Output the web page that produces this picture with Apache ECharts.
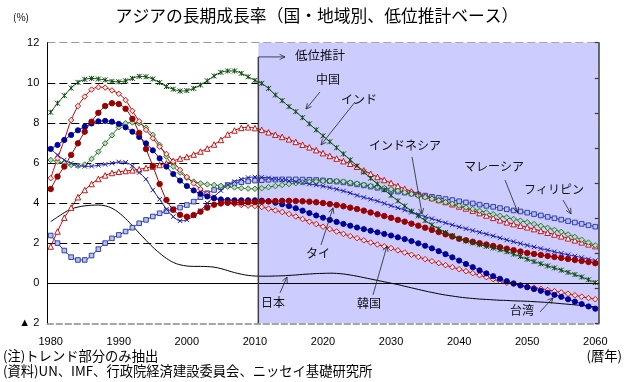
<!DOCTYPE html>
<html>
<head>
<meta charset="utf-8">
<script src="https://cdn.jsdelivr.net/npm/echarts@6/dist/echarts.min.js"></script>
<style>
html,body{margin:0;padding:0;background:#fff}
#chart{width:627px;height:382px}
</style>
</head>
<body>
<div id="chart"></div>
<script>
(function () {
// Calendar years 1980-2060 (category axis)
const years = [];
for (let y = 1980; y <= 2060; y++) years.push(String(y));

// Value-axis tick labels (negative values are written with ▲)
const yTicks = [-2, 0, 2, 4, 6, 8, 10, 12];

// Trend growth rates (%), 1980-2060, low-variant projection from 2011
const china = [8.53,8.98,9.36,9.74,10.02,10.17,10.22,10.19,10.14,10.07,10.05,10.10,10.22,10.32,10.30,10.19,10.01,9.81,9.68,9.59,9.61,9.72,9.89,10.10,10.34,10.52,10.59,10.59,10.47,10.30,10.12,9.97,9.72,9.39,9.11,8.81,8.56,8.26,7.95,7.65,7.35,7.06,6.76,6.45,6.15,5.85,5.54,5.24,4.95,4.66,4.38,4.11,3.85,3.60,3.36,3.13,2.91,2.71,2.53,2.37,2.23,2.11,2.01,1.92,1.84,1.76,1.67,1.57,1.45,1.33,1.20,1.08,0.97,0.86,0.76,0.65,0.54,0.43,0.31,0.17,0.03];
const india = [1.83,2.58,3.27,3.77,4.29,4.65,4.95,5.20,5.38,5.50,5.56,5.60,5.63,5.68,5.75,5.82,5.90,5.98,6.10,6.22,6.30,6.42,6.57,6.72,6.92,7.15,7.42,7.62,7.75,7.78,7.74,7.65,7.53,7.41,7.30,7.18,7.05,6.91,6.78,6.64,6.49,6.35,6.22,6.09,5.96,5.81,5.63,5.46,5.30,5.15,5.00,4.85,4.71,4.58,4.46,4.35,4.25,4.15,4.05,3.94,3.83,3.73,3.62,3.50,3.38,3.26,3.14,3.04,2.95,2.87,2.79,2.70,2.61,2.52,2.43,2.34,2.24,2.14,2.04,1.94,1.85];
const indonesia = [6.70,6.40,6.15,5.98,5.87,5.83,5.84,5.88,5.93,5.99,6.05,6.03,5.85,5.52,5.19,4.65,4.19,3.69,3.32,3.11,3.16,3.36,3.62,3.99,4.32,4.62,4.90,5.07,5.19,5.27,5.30,5.28,5.25,5.20,5.15,5.10,5.05,5.00,4.95,4.90,4.84,4.77,4.69,4.60,4.50,4.38,4.28,4.19,4.10,3.98,3.87,3.76,3.65,3.54,3.43,3.32,3.22,3.11,3.01,2.91,2.81,2.72,2.63,2.54,2.45,2.36,2.26,2.16,2.07,1.98,1.89,1.81,1.73,1.65,1.57,1.49,1.42,1.35,1.28,1.20,1.13];
const malaysia = [6.15,6.07,5.99,5.90,5.86,5.92,6.20,6.56,6.98,7.38,7.78,7.98,8.02,7.98,7.76,7.40,6.90,6.32,5.82,5.52,5.26,5.07,4.98,4.93,4.90,4.86,4.82,4.78,4.74,4.72,4.71,4.74,4.79,4.85,4.90,4.95,4.99,5.03,5.06,5.08,5.10,5.10,5.10,5.07,5.02,4.97,4.91,4.85,4.80,4.75,4.69,4.61,4.53,4.45,4.37,4.29,4.21,4.13,4.04,3.96,3.87,3.78,3.70,3.61,3.53,3.44,3.36,3.28,3.20,3.12,3.04,2.95,2.86,2.76,2.66,2.56,2.43,2.31,2.17,2.03,1.89];
const philippines = [2.38,2.00,1.63,1.30,1.16,1.16,1.38,1.70,2.00,2.24,2.41,2.58,2.77,2.99,3.16,3.33,3.49,3.59,3.69,3.77,3.90,4.07,4.29,4.49,4.65,4.79,4.90,4.99,5.04,5.08,5.12,5.14,5.16,5.17,5.18,5.18,5.18,5.17,5.16,5.15,5.13,5.10,5.07,5.03,4.98,4.93,4.88,4.82,4.76,4.69,4.62,4.57,4.52,4.47,4.42,4.37,4.31,4.26,4.20,4.15,4.09,4.03,3.98,3.92,3.86,3.81,3.75,3.69,3.63,3.58,3.52,3.45,3.38,3.31,3.24,3.17,3.10,3.03,2.96,2.89,2.82];
const thailand = [4.70,5.32,5.82,6.40,6.98,7.56,8.06,8.50,8.84,8.98,8.94,8.70,8.20,7.50,6.70,5.85,4.95,4.15,3.66,3.41,3.32,3.40,3.57,3.77,3.92,3.98,4.01,4.02,4.03,4.04,4.05,4.07,4.09,4.10,4.11,4.11,4.10,4.09,4.07,4.04,4.00,3.95,3.90,3.84,3.77,3.70,3.62,3.53,3.44,3.35,3.26,3.16,3.07,2.97,2.87,2.77,2.66,2.55,2.44,2.33,2.22,2.14,2.07,2.00,1.93,1.86,1.79,1.72,1.65,1.58,1.51,1.46,1.41,1.36,1.31,1.26,1.21,1.16,1.11,1.06,1.00];
const korea = [5.24,6.23,7.15,8.14,8.84,9.31,9.66,9.78,9.76,9.62,9.45,9.14,8.60,8.08,7.65,7.23,6.81,6.45,6.07,5.65,5.30,4.98,4.70,4.46,4.26,4.11,4.01,3.95,3.90,3.87,3.85,3.80,3.72,3.63,3.55,3.45,3.33,3.20,3.07,2.95,2.82,2.70,2.58,2.46,2.35,2.25,2.14,2.03,1.93,1.84,1.75,1.64,1.53,1.42,1.31,1.20,1.10,1.00,0.90,0.80,0.70,0.60,0.50,0.40,0.30,0.20,0.10,0.02,-0.05,-0.11,-0.16,-0.22,-0.28,-0.34,-0.40,-0.46,-0.53,-0.60,-0.67,-0.74,-0.80];
const taiwan = [6.70,6.90,7.15,7.40,7.63,7.81,7.97,8.08,8.10,8.06,7.95,7.78,7.56,7.30,6.98,6.63,6.23,5.82,5.45,5.12,4.85,4.63,4.46,4.33,4.24,4.18,4.15,4.14,4.14,4.14,4.14,4.12,4.08,4.02,3.94,3.85,3.74,3.62,3.50,3.38,3.27,3.16,3.06,2.96,2.87,2.78,2.70,2.62,2.54,2.46,2.38,2.29,2.20,2.10,1.99,1.87,1.74,1.60,1.45,1.29,1.13,0.96,0.80,0.64,0.49,0.35,0.22,0.10,-0.01,-0.11,-0.20,-0.29,-0.38,-0.48,-0.58,-0.68,-0.80,-0.92,-1.04,-1.16,-1.27];
const japan = [3.07,3.30,3.52,3.70,3.80,3.86,3.89,3.90,3.86,3.74,3.52,3.22,2.87,2.50,2.14,1.80,1.50,1.24,1.04,0.92,0.86,0.84,0.84,0.83,0.80,0.73,0.63,0.53,0.45,0.39,0.36,0.35,0.35,0.36,0.37,0.39,0.41,0.44,0.46,0.48,0.49,0.50,0.49,0.46,0.41,0.35,0.28,0.21,0.14,0.07,0.00,-0.07,-0.15,-0.23,-0.31,-0.39,-0.46,-0.53,-0.59,-0.64,-0.69,-0.73,-0.76,-0.79,-0.81,-0.83,-0.85,-0.86,-0.88,-0.89,-0.90,-0.92,-0.94,-0.96,-0.99,-1.02,-1.05,-1.08,-1.11,-1.14,-1.18];

// Projection period (low variant) shaded from the 2010/2011 boundary to the end
const projectionFrom = 2010.5;
const projectionTo = 2060.5;

// Country captions and their leader arrows, in (year, %) coordinates
const captions = [
  { text: '低位推計', at: [2019.56, 11.39], size: 12.5 },
  { text: '中国', at: [2020.74, 10.19], size: 12 },
  { text: 'インド', at: [2025.29, 9.19], size: 12 },
  { text: 'インドネシア', at: [2032.05, 6.85], size: 12 },
  { text: 'マレーシア', at: [2045.12, 5.85], size: 12 },
  { text: 'フィリピン', at: [2053.94, 4.70], size: 12 },
  { text: 'タイ', at: [2019.27, 1.51], size: 12 },
  { text: '日本', at: [2012.66, -0.98], size: 12 },
  { text: '韓国', at: [2026.76, -1.03], size: 12 },
  { text: '台湾', at: [2049.24, -1.38], size: 12 }
];
const leaders = [
  { from: [2019.56, 9.54], to: [2017.50, 8.69] },
  { from: [2024.70, 9.04], to: [2019.71, 6.90] },
  { from: [2033.08, 6.30], to: [2034.55, 3.46] },
  { from: [2046.74, 5.15], to: [2048.65, 3.51] },
  { from: [2055.26, 4.15], to: [2056.44, 3.46] },
  { from: [2019.71, 1.91], to: [2021.47, 3.76] },
  { from: [2013.69, -0.48], to: [2014.71, 0.31] },
  { from: [2027.35, -0.58], to: [2029.40, 1.86] },
  { from: [2051.88, -1.43], to: [2053.79, -0.73] }
];
const projectionMarkTop = 11.29;
const projectionArrowEnd = 2014.42;

const chart = echarts.init(document.getElementById('chart'), null, { renderer: 'canvas' });

function lineSeries(name, data, color, symbol, size, fill, extra) {
  return Object.assign({
    name: name,
    type: 'line',
    data: data,
    xAxisIndex: 0,
    yAxisIndex: 0,
    symbol: symbol,
    symbolSize: size,
    showSymbol: symbol !== 'none',
    showAllSymbol: true,
    lineStyle: { color: color, width: 1 },
    itemStyle: { color: fill, borderColor: color, borderWidth: 0.9 },
    smooth: 0.3,
    z: 3
  }, extra || {});
}

const asterisk = 'path://M0,0L10,10M10,0L0,10M5,0L5,10';
const cross = 'path://M0,0L10,10M10,0L0,10';

chart.setOption({
  animation: false,
  grid: { left: 47.3, right: 28.3, top: 42.7, bottom: 58.7, containLabel: false },
  xAxis: [
    {
      type: 'category', data: years, boundaryGap: true, position: 'bottom',
      axisLine: { onZero: true, onZeroAxisIndex: 0, lineStyle: { color: '#000', width: 1 } },
      axisTick: { inside: true, length: 5, interval: 9, lineStyle: { color: '#000', width: 1 } },
      axisLabel: { show: false },
      splitLine: { show: false },
      z: 6
    },
    {
      type: 'category', data: years, boundaryGap: true, position: 'bottom',
      axisLine: { onZero: false, lineStyle: { color: '#8a8a8a', width: 1.5, type: [6, 3] } },
      axisTick: { show: false },
      axisLabel: { interval: 9, color: '#000', fontSize: 11, fontFamily: 'Liberation Sans', margin: 13 },
      splitLine: { show: false },
      z: 6
    },
    { type: 'value', min: -0.5, max: 80.5, position: 'top', show: false }
  ],
  yAxis: [
    {
      type: 'value', min: -2, max: 12, interval: 2, position: 'left',
      axisLine: { show: true, onZero: false, lineStyle: { color: '#000', width: 1 } },
      axisTick: { show: false },
      axisLabel: {
        color: '#000', fontSize: 11, fontFamily: 'Liberation Sans', margin: 8,
        formatter: v => (yTicks.indexOf(v) >= 0 ? (v < 0 ? '▲ ' + (-v) : String(v)) : '')
      },
      splitLine: { show: true, lineStyle: { color: ['transparent', 'transparent', '#000', '#000', '#000', '#000', '#000', '#9a9a9a'], width: 1, type: [8, 4] } },
      z: 0
    },
    {
      type: 'value', min: 0, max: 8, interval: 1, position: 'right',
      axisLine: { show: true, onZero: false, lineStyle: { color: '#3a3a3a', width: 1.5 } },
      axisTick: { show: true, inside: true, length: 4, lineStyle: { color: '#3a3a3a', width: 1.2 } },
      axisLabel: { show: false },
      splitLine: { show: false },
      z: 6
    }
  ],
  series: [
    {
      name: 'projection', type: 'line', xAxisIndex: 2, yAxisIndex: 0, data: [], z: 1,
      markArea: {
        silent: true,
        itemStyle: { color: '#ccccff' },
        data: [[{ xAxis: projectionFrom - 1980, yAxis: -2 }, { xAxis: projectionTo - 1980, yAxis: 12 }]]
      }
    },
    lineSeries('日本', japan, '#000000', 'none', 0, '#000', { smooth: 0.4 }),
    lineSeries('フィリピン', philippines, '#2233a0', 'rect', 4.6, '#b9c0f2'),
    lineSeries('インド', india, '#c00000', 'triangle', 5.5, '#ffffff'),
    lineSeries('マレーシア', malaysia, '#1e6b1e', 'diamond', 5.5, '#b8dcb8'),
    lineSeries('インドネシア', indonesia, '#1c1cb0', cross, 4.5, '#1c1cb0', { itemStyle: { color: '#1c1cb0', borderColor: '#1c1cb0', borderWidth: 1 } }),
    lineSeries('韓国', korea, '#c00000', 'diamond', 5.5, '#ffe0e0'),
    lineSeries('台湾', taiwan, '#000099', 'circle', 5.2, '#000099'),
    lineSeries('タイ', thailand, '#990000', 'circle', 5.5, '#990000'),
    lineSeries('中国', china, '#0a4d0a', asterisk, 5, '#0a4d0a', { itemStyle: { color: '#0a4d0a', borderColor: '#0a4d0a', borderWidth: 1 } })
  ]
});

// Captions, leader arrows and page texts, placed through the chart's own scales
function toPx(p) {
  return chart.convertToPixel({ xAxisIndex: 2, yAxisIndex: 0 }, [p[0] - 1980, p[1]]);
}
function arrowHead(p0, p1, len, color, width) {
  const dx = p1[0] - p0[0], dy = p1[1] - p0[1];
  const d = Math.sqrt(dx * dx + dy * dy) || 1;
  const ux = dx / d, uy = dy / d;
  const a = 0.45;
  const c = Math.cos(a), s = Math.sin(a);
  const l1 = [p1[0] - len * (ux * c - uy * s), p1[1] - len * (uy * c + ux * s)];
  const l2 = [p1[0] - len * (ux * c + uy * s), p1[1] - len * (uy * c - ux * s)];
  return { type: 'polyline', shape: { points: [l1, p1, l2] }, style: { stroke: color, lineWidth: width, fill: null }, z: 20 };
}
function textEl(text, x, y, font, align, color) {
  return {
    type: 'text', z: 20,
    style: { text: text, x: x, y: y, font: font, fill: color || '#000',
      textAlign: align || 'center', textVerticalAlign: 'middle', align: align || 'center', verticalAlign: 'middle' }
  };
}

const g = [];
captions.forEach(c => {
  const p = toPx(c.at);
  g.push(textEl(c.text, p[0], p[1], c.size + 'px "Noto Sans CJK JP"', 'center', '#111'));
});
leaders.forEach(a => {
  const p0 = toPx(a.from), p1 = toPx(a.to);
  g.push({ type: 'line', shape: { x1: p0[0], y1: p0[1], x2: p1[0], y2: p1[1] }, style: { stroke: '#222', lineWidth: 0.8 }, z: 20 });
  g.push(arrowHead(p0, p1, 6, '#222', 0.8));
});
// projection boundary with its pointer
const markTop = toPx([projectionFrom, projectionMarkTop]);
const markBottom = toPx([projectionFrom, -2]);
const markTip = toPx([projectionArrowEnd, projectionMarkTop]);
g.push({ type: 'line', shape: { x1: markTop[0], y1: markTop[1], x2: markBottom[0], y2: markBottom[1] }, style: { stroke: '#404040', lineWidth: 1.5 }, z: 19 });
g.push({ type: 'line', shape: { x1: markTop[0], y1: markTop[1], x2: markTip[0], y2: markTip[1] }, style: { stroke: '#222', lineWidth: 0.8 }, z: 20 });
g.push(arrowHead(markTop, markTip, 6, '#222', 0.8));

// title, unit and notes
g.push(textEl('アジアの長期成長率（国・地域別、低位推計ベース）', 317, 16, '16.8px "Noto Sans CJK JP"', 'center', '#000'));
g.push(textEl('(%)', 21, 17, '10px "Noto Sans CJK JP"', 'center', '#000'));
g.push(textEl('(注)トレンド部分のみ抽出', 3, 356, '13.3px "Noto Sans CJK JP"', 'left', '#000'));
g.push(textEl('(資料)UN、IMF、行政院経済建設委員会、ニッセイ基礎研究所', 3, 371, '13.3px "Noto Sans CJK JP"', 'left', '#000'));
g.push(textEl('(暦年)', 622, 356, '13.3px "Noto Sans CJK JP"', 'right', '#000'));

chart.setOption({ graphic: { elements: g } });
})();
</script>
</body>
</html>
